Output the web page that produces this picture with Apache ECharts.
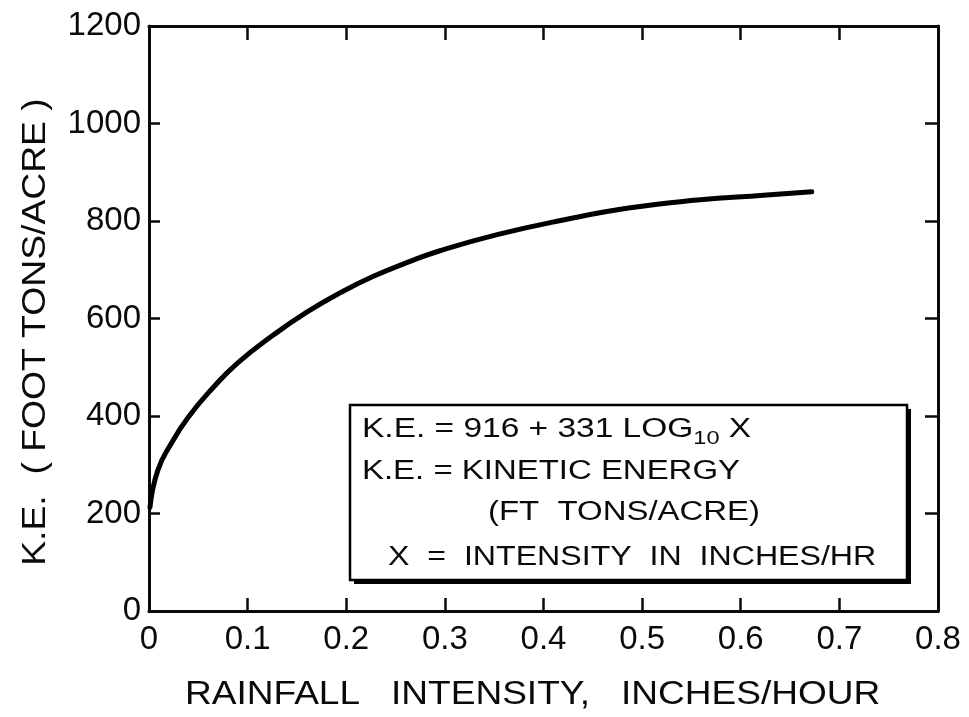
<!DOCTYPE html>
<html><head><meta charset="utf-8">
<script src="https://cdn.jsdelivr.net/npm/echarts@6/dist/echarts.min.js"></script>
<style>html,body{margin:0;padding:0;background:#fff}#c{width:969px;height:717px}</style>
</head><body><div id="c"></div>
<script>
// Rainfall intensity (inches/hour)
const intensity = [0.001, 0.009, 0.023, 0.040, 0.064, 0.090, 0.126, 0.160, 0.194, 0.227, 0.262, 0.295, 0.353, 0.420, 0.488, 0.556, 0.623, 0.672];
// Kinetic energy (foot tons/acre)
const energy = [213, 289, 345, 398, 456, 509, 566, 613, 653, 686, 715, 739, 772, 802, 827, 843, 853, 860];
const xTickLabels = ['0', '0.1', '0.2', '0.3', '0.4', '0.5', '0.6', '0.7', '0.8'];
const yTickLabels = ['0', '200', '400', '600', '800', '1000', '1200'];
const xTitle = 'RAINFALL   INTENSITY,   INCHES/HOUR';
const yTitle = 'K.E.  ( FOOT TONS/ACRE )';
const boxLines = ['K.E. = KINETIC ENERGY', '(FT  TONS/ACRE)', 'X  =  INTENSITY  IN  INCHES/HR'];

const FONT = '"Liberation Sans", Arial, sans-serif';
const INK = '#0a0a0a';

const chart = echarts.init(document.getElementById('c'), null, {renderer: 'canvas'});

const lineStyle = {color: INK, width: 3};

const option = {
  backgroundColor: '#fff',
  animation: false,
  grid: {left: 149, right: 31, top: 26, bottom: 106, containLabel: false},
  xAxis: [
    {
      type: 'value', position: 'bottom', min: 0, max: 0.8, interval: 0.1,
      axisLine: {show: true, onZero: false, lineStyle: lineStyle},
      splitLine: {show: false},
      axisTick: {inside: true, length: 13, lineStyle: {color: INK, width: 2.5}},
      axisLabel: {
        fontSize: 33, fontFamily: FONT, color: INK, margin: 12,
        showMinLabel: true, showMaxLabel: true,
        formatter: (v) => xTickLabels[Math.round(v * 10)]
      }
    },
    {
      type: 'value', position: 'top', min: 0, max: 0.8, interval: 0.1,
      axisLine: {show: true, onZero: false, lineStyle: lineStyle},
      splitLine: {show: false},
      axisTick: {inside: true, length: 14, lineStyle: {color: INK, width: 2.5}},
      axisLabel: {show: false}
    }
  ],
  yAxis: [
    {
      type: 'value', position: 'left', min: 0, max: 1200, interval: 200,
      axisLine: {show: true, onZero: false, lineStyle: lineStyle},
      splitLine: {show: false},
      axisTick: {inside: true, length: 11, lineStyle: {color: INK, width: 2.5}},
      axisLabel: {
        fontSize: 33, fontFamily: FONT, color: INK, margin: 8,
        showMinLabel: true, showMaxLabel: true,
        formatter: (v) => yTickLabels[Math.round(v / 200)]
      }
    },
    {
      type: 'value', position: 'right', min: 0, max: 1200, interval: 200,
      axisLine: {show: true, onZero: false, lineStyle: lineStyle},
      splitLine: {show: false},
      axisTick: {inside: true, length: 13, lineStyle: {color: INK, width: 2.5}},
      axisLabel: {show: false}
    }
  ],
  series: [{
    type: 'line',
    xAxisIndex: 0, yAxisIndex: 0,
    data: intensity.map((x, i) => [x, energy[i]]),
    smooth: 0.5,
    showSymbol: false,
    symbol: 'none',
    lineStyle: {color: '#000', width: 5, cap: 'round', join: 'round'},
    z: 3
  }],
  graphic: [
    {
      type: 'text', x: 185, y: 695, scaleX: 1.09,
      style: {text: xTitle, font: '34px ' + FONT, fill: INK, textAlign: 'left', textVerticalAlign: 'middle'}
    },
    {
      type: 'text', x: 36, y: 332, rotation: Math.PI / 2, scaleX: 1.13,
      style: {text: yTitle, font: '33px ' + FONT, fill: INK, textAlign: 'center', textVerticalAlign: 'middle'}
    },
    {
      type: 'rect', shape: {x: 354, y: 409, width: 557, height: 175},
      style: {fill: '#000'}, z: 10
    },
    {
      type: 'rect', shape: {x: 350, y: 405, width: 557, height: 175},
      style: {fill: '#fff', stroke: '#000', lineWidth: 2.5}, z: 11
    },
    {
      type: 'text', x: 362, y: 430, scaleX: 1.24, z: 12,
      style: {
        text: '{m|K.E. = 916 + 331 LOG}{s|10}{m| X}',
        textAlign: 'left', textVerticalAlign: 'middle', fill: INK,
        rich: {
          m: {fontSize: 27, fontFamily: FONT, color: INK, lineHeight: 36, verticalAlign: 'middle'},
          s: {fontSize: 19, fontFamily: FONT, color: INK, lineHeight: 19, verticalAlign: 'bottom'}
        }
      }
    },
    {
      type: 'text', x: 362, y: 472, scaleX: 1.22, z: 12,
      style: {text: boxLines[0], font: '27px ' + FONT, fill: INK, textAlign: 'left', textVerticalAlign: 'middle'}
    },
    {
      type: 'text', x: 488, y: 513, scaleX: 1.22, z: 12,
      style: {text: boxLines[1], font: '27px ' + FONT, fill: INK, textAlign: 'left', textVerticalAlign: 'middle'}
    },
    {
      type: 'text', x: 388, y: 558, scaleX: 1.19, z: 12,
      style: {text: boxLines[2], font: '27px ' + FONT, fill: INK, textAlign: 'left', textVerticalAlign: 'middle'}
    }
  ]
};
chart.setOption(option);
</script>
</body></html>
